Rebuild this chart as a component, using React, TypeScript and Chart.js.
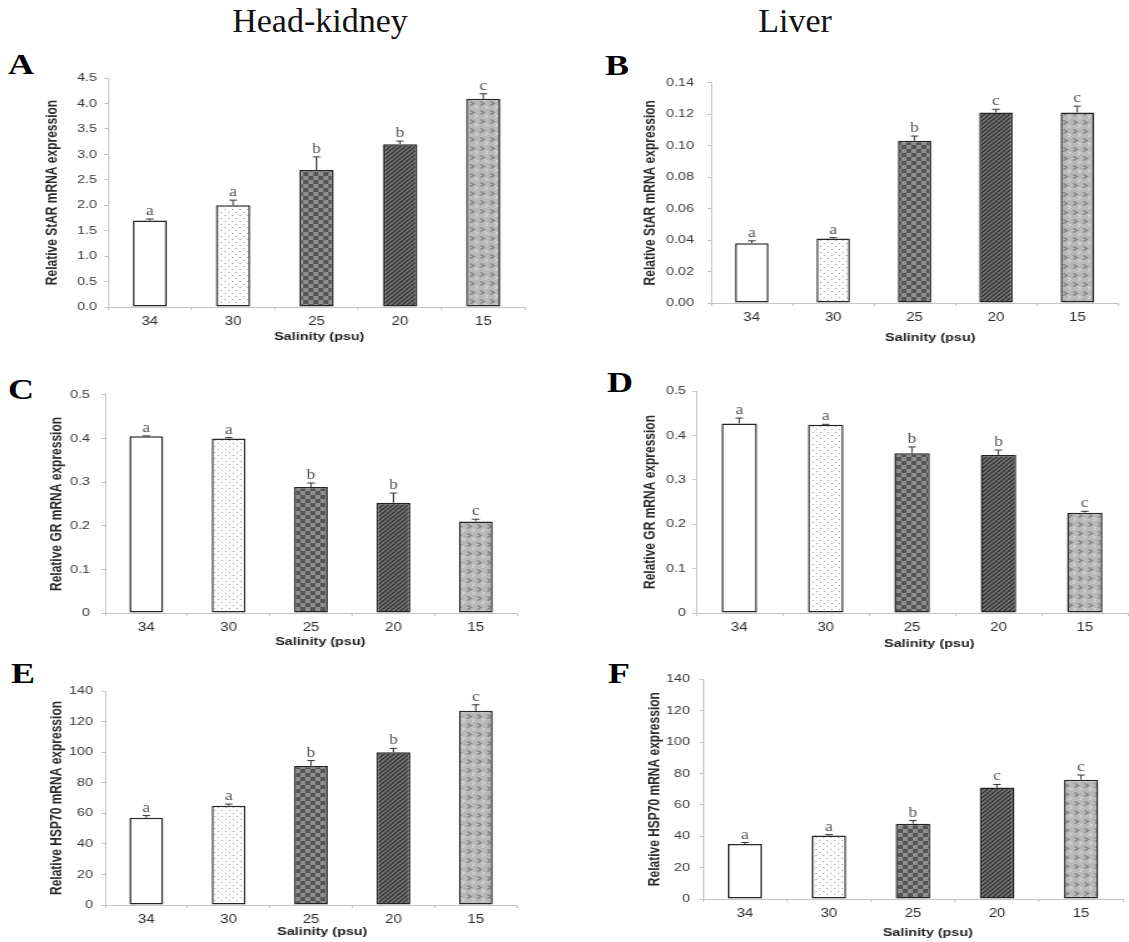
import React, { useEffect, useRef } from 'react';
import { Chart, registerables } from 'chart.js';

Chart.register(...registerables);

// ---------------- data ----------------
const salinityLabels = ['34', '30', '25', '20', '15'];

const starHeadKidney = [1.70, 2.00, 2.69, 3.20, 4.09];
const starHeadKidneyErr = [0.03, 0.10, 0.26, 0.06, 0.10];
const starHeadKidneyLetters = ['a', 'a', 'b', 'b', 'c'];
const starHeadKidneyTicks = ['0.0', '0.5', '1.0', '1.5', '2.0', '2.5', '3.0', '3.5', '4.0', '4.5'];

const starLiver = [0.038, 0.041, 0.103, 0.121, 0.121];
const starLiverErr = [0.0015, 0.0005, 0.003, 0.002, 0.004];
const starLiverLetters = ['a', 'a', 'b', 'c', 'c'];
const starLiverTicks = ['0.00', '0.02', '0.04', '0.06', '0.08', '0.10', '0.12', '0.14'];

const grHeadKidney = [0.405, 0.400, 0.289, 0.253, 0.210];
const grHeadKidneyErr = [0.001, 0.002, 0.009, 0.022, 0.005];
const grHeadKidneyLetters = ['a', 'a', 'b', 'b', 'c'];

const grLiver = [0.427, 0.424, 0.360, 0.356, 0.226];
const grLiverErr = [0.012, 0.001, 0.014, 0.011, 0.003];
const grLiverLetters = ['a', 'a', 'b', 'b', 'c'];
const grTicks = ['0', '0.1', '0.2', '0.3', '0.4', '0.5'];

const hspHeadKidney = [57, 65, 91, 100, 127];
const hspHeadKidneyErr = [1.5, 1, 3.5, 2.5, 4];
const hspHeadKidneyLetters = ['a', 'a', 'b', 'b', 'c'];

const hspLiver = [35, 40.5, 48, 71, 76];
const hspLiverErr = [1, 0.5, 2, 2, 3];
const hspLiverLetters = ['a', 'a', 'b', 'c', 'c'];
const hspTicks = ['0', '20', '40', '60', '80', '100', '120', '140'];

const xAxisTitle = 'Salinity (psu)';

// ---------------- layout (CSS px) ----------------
const S = 1.25; // horizontal stretch of the reference picture
const FONT = '"Liberation Sans", Arial, sans-serif';
const SERIF = '"Liberation Serif", "Times New Roman", serif';

type Geo = { xL: number; xR: number; yT: number; yB: number; titleDist: number; tickGap: number; xtX: number; xtY: number };

const panels = [
  { key: 'A', values: starHeadKidney, errs: starHeadKidneyErr, letters: starHeadKidneyLetters, ticks: starHeadKidneyTicks, max: 4.5, step: 0.5, yTitle: 'Relative StAR mRNA expression',
    geo: { xL: 108, xR: 525, yT: 78, yB: 307, titleDist: 55, tickGap: 11, xtX: 319, xtY: 337 } },
  { key: 'B', values: starLiver, errs: starLiverErr, letters: starLiverLetters, ticks: starLiverTicks, max: 0.14, step: 0.02, yTitle: 'Relative StAR mRNA expression',
    geo: { xL: 711, xR: 1117, yT: 79, yB: 303, titleDist: 61, tickGap: 17, xtX: 930, xtY: 338 } },
  { key: 'C', values: grHeadKidney, errs: grHeadKidneyErr, letters: grHeadKidneyLetters, ticks: grTicks, max: 0.5, step: 0.1, yTitle: 'Relative GR mRNA expression',
    geo: { xL: 105, xR: 517, yT: 393, yB: 613, titleDist: 48, tickGap: 15, xtX: 320, xtY: 642 } },
  { key: 'D', values: grLiver, errs: grLiverErr, letters: grLiverLetters, ticks: grTicks, max: 0.5, step: 0.1, yTitle: 'Relative GR mRNA expression',
    geo: { xL: 696, xR: 1127, yT: 391, yB: 613, titleDist: 46, tickGap: 10, xtX: 929, xtY: 644 } },
  { key: 'E', values: hspHeadKidney, errs: hspHeadKidneyErr, letters: hspHeadKidneyLetters, ticks: hspTicks, max: 140, step: 20, yTitle: 'Relative HSP70 mRNA expression',
    geo: { xL: 105, xR: 517, yT: 691, yB: 905, titleDist: 48, tickGap: 12, xtX: 322, xtY: 932 } },
  { key: 'F', values: hspLiver, errs: hspLiverErr, letters: hspLiverLetters, ticks: hspTicks, max: 140, step: 20, yTitle: 'Relative HSP70 mRNA expression',
    geo: { xL: 703, xR: 1123, yT: 679, yB: 899, titleDist: 48, tickGap: 13, xtX: 928, xtY: 933 } },
];

const panelLetters = [
  { t: 'A', x: 8, base: 74 },
  { t: 'B', x: 605, base: 75 },
  { t: 'C', x: 8, base: 399 },
  { t: 'D', x: 607, base: 392 },
  { t: 'E', x: 11, base: 683 },
  { t: 'F', x: 608, base: 683 },
];

// ---------------- patterns ----------------
function tile(w: number, h: number, draw: (c: CanvasRenderingContext2D) => void) {
  const c = document.createElement('canvas');
  c.width = w; c.height = h;
  const x = c.getContext('2d')!;
  draw(x);
  return x.createPattern(c, 'repeat')!;
}

function makePatterns() {
  const white = '#ffffff';
  const dots = tile(6, 6, (c) => {
    c.fillStyle = '#fbfbfb'; c.fillRect(0, 0, 6, 6);
    c.fillStyle = '#a0a0a0';
    c.fillRect(1, 1, 1, 1);
    c.fillRect(4, 4, 1, 1);
  });
  const checker = tile(8, 8, (c) => {
    c.fillStyle = '#8e8e8e'; c.fillRect(0, 0, 8, 8);
    c.fillStyle = '#555555';
    c.fillRect(0, 0, 4, 4);
    c.fillRect(4, 4, 4, 4);
  });
  const hatch = tile(4, 4, (c) => {
    c.fillStyle = '#7c7c7c'; c.fillRect(0, 0, 4, 4);
    c.strokeStyle = '#2f2f2f'; c.lineWidth = 1.3;
    c.beginPath();
    c.moveTo(0, 4); c.lineTo(4, 0);
    c.moveTo(-1, 1); c.lineTo(1, -1);
    c.moveTo(3, 5); c.lineTo(5, 3);
    c.stroke();
  });
  const zigzag = tile(8, 9, (c) => {
    c.fillStyle = '#b8b8b8'; c.fillRect(0, 0, 8, 9);
    c.strokeStyle = '#7a7a7a'; c.lineWidth = 1.1;
    c.beginPath(); c.moveTo(1.5, 1.5); c.lineTo(4.5, 3.5); c.lineTo(1.5, 5.5); c.stroke();
    c.strokeStyle = '#e0e0e0'; c.lineWidth = 0.9;
    c.beginPath(); c.moveTo(5, 5.5); c.lineTo(7.5, 7.2); c.lineTo(5, 9); c.stroke();
  });
  return [white, dots, checker, hatch, zigzag];
}

// ---------------- panel ----------------
function Panel({ spec }: { spec: typeof panels[number] }) {
  const ref = useRef<HTMLCanvasElement>(null);
  const g: Geo = spec.geo;
  const L = g.xL - 80;
  const T = g.yT - 14;
  const logW = Math.round((g.xR + 6 - L) / S);
  const cssH = g.yB + 42 - T;

  useEffect(() => {
    const canvas = ref.current;
    if (!canvas) return;
    const fills = makePatterns();
    const annot = {
      id: 'annot' + spec.key,
      afterDatasetsDraw(chart: any) {
        const ctx = chart.ctx as CanvasRenderingContext2D;
        const meta = chart.getDatasetMeta(0);
        const ys = chart.scales.y;
        ctx.save();
        meta.data.forEach((bar: any, i: number) => {
          const top = ys.getPixelForValue(spec.values[i]);
          const et = ys.getPixelForValue(spec.values[i] + spec.errs[i]);
          ctx.strokeStyle = '#333';
          ctx.lineWidth = 1;
          ctx.beginPath();
          ctx.moveTo(bar.x, top);
          ctx.lineTo(bar.x, et);
          ctx.moveTo(bar.x - 3, et);
          ctx.lineTo(bar.x + 3, et);
          ctx.stroke();
          ctx.fillStyle = '#555';
          ctx.font = '14px ' + SERIF;
          ctx.textAlign = 'center';
          ctx.textBaseline = 'alphabetic';
          ctx.fillText(spec.letters[i], bar.x, et - 4);
        });
        ctx.font = 'bold 11.5px ' + FONT;
        ctx.fillStyle = '#222';
        ctx.textAlign = 'center';
        ctx.textBaseline = 'middle';
        ctx.fillText(xAxisTitle, (g.xtX - L) / S, g.xtY - T);
        ctx.restore();
      },
    };
    const chart = new Chart(canvas, {
      type: 'bar',
      data: {
        labels: salinityLabels,
        datasets: [{
          data: spec.values,
          backgroundColor: fills as any,
          borderColor: '#252525',
          borderWidth: 1.5,
          borderSkipped: false,
          barPercentage: 0.41,
          categoryPercentage: 1,
        }],
      },
      options: {
        responsive: false,
        animation: false,
        devicePixelRatio: 1,
        layout: { padding: { top: 14, left: 0, right: 6 / S, bottom: 0 } },
        plugins: { legend: { display: false }, tooltip: { enabled: false } },
        scales: {
          x: {
            type: 'category',
            afterFit: (s: any) => { s.height = 42; },
            grid: { display: true, offset: true, drawOnChartArea: false, drawTicks: true, tickLength: 3, color: '#c4c4c4' },
            border: { display: true, color: '#c4c4c4', width: 1 },
            ticks: { padding: 4, maxRotation: 0, color: '#2e2e2e', font: { family: FONT, size: 12 } },
          },
          y: {
            type: 'linear',
            min: 0,
            max: spec.max,
            afterFit: (s: any) => { s.width = 80 / S; },
            grid: { display: true, drawOnChartArea: false, drawTicks: true, tickLength: 3, color: '#c4c4c4' },
            border: { display: true, color: '#c4c4c4', width: 1 },
            ticks: {
              stepSize: spec.step,
              autoSkip: false,
              padding: g.tickGap / S - 3,
              color: '#383838',
              font: { family: FONT, size: 11.5 },
              callback: (_v: any, i: number) => spec.ticks[i],
            },
            title: {
              display: true,
              text: spec.yTitle,
              color: '#2a2a2a',
              font: { family: FONT, size: 12, weight: 'bold' },
              padding: { top: (80 - g.titleDist) / S - 7.2, bottom: 0 },
            },
          },
        },
      },
      plugins: [annot],
    } as any);
    return () => chart.destroy();
  }, []);

  return (
    <canvas
      ref={ref}
      width={logW}
      height={cssH}
      style={{ position: 'absolute', left: L, top: T, width: logW * S, height: cssH }}
    />
  );
}

export default function App() {
  return (
    <div style={{ position: 'absolute', left: 0, top: 0, width: 1129, height: 942, overflow: 'hidden', background: '#fff' }}>
      <div style={{ position: 'absolute', left: 320, top: 4, transform: 'translateX(-50%)', font: '34px ' + SERIF, lineHeight: '34px', whiteSpace: 'nowrap', color: '#111' }}>Head-kidney</div>
      <div style={{ position: 'absolute', left: 795, top: 4, transform: 'translateX(-50%)', font: '34px ' + SERIF, lineHeight: '34px', whiteSpace: 'nowrap', color: '#111' }}>Liver</div>
      {panelLetters.map((p) => (
        <div key={p.t} style={{ position: 'absolute', left: p.x, top: p.base - 25, font: 'bold 30px ' + SERIF, lineHeight: '30px', transform: 'scaleX(1.2)', transformOrigin: 'left top', color: '#000' }}>{p.t}</div>
      ))}
      {panels.map((p) => <Panel key={p.key} spec={p} />)}
    </div>
  );
}
